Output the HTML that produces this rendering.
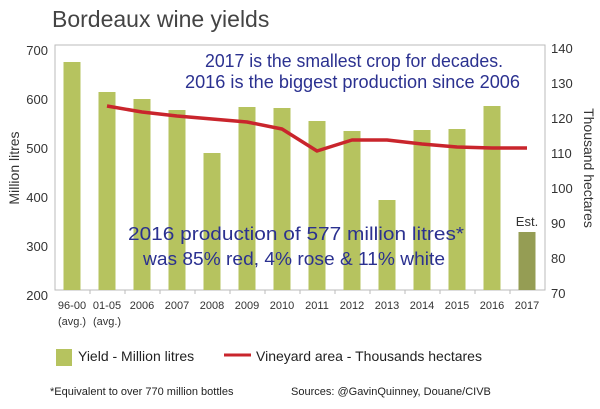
<!DOCTYPE html>
<html><head><meta charset="utf-8"><style>
html,body{margin:0;padding:0;background:#fff;}
svg{display:block;font-family:"Liberation Sans",sans-serif;}
</style></head><body>
<svg width="600" height="409" viewBox="0 0 600 409" xmlns="http://www.w3.org/2000/svg">
<text x="52" y="27" font-size="23" fill="#444">Bordeaux wine yields</text>
<rect x="55" y="45" width="490" height="245" fill="none" stroke="#bbb" stroke-width="1"/>
<g fill="#b6c35f">
<rect x="63.5" y="62" width="17" height="228"/>
<rect x="98.5" y="92" width="17" height="198"/>
<rect x="133.5" y="99" width="17" height="191"/>
<rect x="168.5" y="110" width="17" height="180"/>
<rect x="203.5" y="153" width="17" height="137"/>
<rect x="238.5" y="107" width="17" height="183"/>
<rect x="273.5" y="108" width="17" height="182"/>
<rect x="308.5" y="121" width="17" height="169"/>
<rect x="343.5" y="131" width="17" height="159"/>
<rect x="378.5" y="200" width="17" height="90"/>
<rect x="413.5" y="130" width="17" height="160"/>
<rect x="448.5" y="129" width="17" height="161"/>
<rect x="483.5" y="106" width="17" height="184"/>
<rect x="518.5" y="232" width="17" height="58" fill="#959d54"/>
</g>
<g stroke="#bbb" stroke-width="1">
<line x1="90" y1="290" x2="90" y2="294"/><line x1="125" y1="290" x2="125" y2="294"/><line x1="160" y1="290" x2="160" y2="294"/><line x1="195" y1="290" x2="195" y2="294"/><line x1="230" y1="290" x2="230" y2="294"/><line x1="265" y1="290" x2="265" y2="294"/><line x1="300" y1="290" x2="300" y2="294"/><line x1="335" y1="290" x2="335" y2="294"/><line x1="370" y1="290" x2="370" y2="294"/><line x1="405" y1="290" x2="405" y2="294"/><line x1="440" y1="290" x2="440" y2="294"/><line x1="475" y1="290" x2="475" y2="294"/><line x1="510" y1="290" x2="510" y2="294"/>
</g>
<polyline points="107,106 142,112 177,116 212,119 247,122 282,129 317,151 352,140 387,140 422,144 457,147 492,148 527,148" fill="none" stroke="#c9252c" stroke-width="3.5" stroke-linejoin="round"/>
<g font-size="13" fill="#333" text-anchor="end">
<text x="48" y="55">700</text><text x="48" y="104">600</text><text x="48" y="153">500</text><text x="48" y="202">400</text><text x="48" y="251">300</text><text x="48" y="300">200</text>
</g>
<g font-size="13" fill="#333">
<text x="551" y="53">140</text><text x="551" y="88">130</text><text x="551" y="123">120</text><text x="551" y="158">110</text><text x="551" y="193">100</text><text x="551" y="228">90</text><text x="551" y="263">80</text><text x="551" y="298">70</text>
</g>
<text transform="translate(19,168) rotate(-90)" font-size="14" fill="#333" text-anchor="middle">Million litres</text>
<text transform="translate(584,168) rotate(90)" font-size="14" fill="#333" text-anchor="middle">Thousand hectares</text>
<g font-size="11" fill="#333" text-anchor="middle">
<text x="72" y="309">96-00</text><text x="107" y="309">01-05</text><text x="142" y="309">2006</text><text x="177" y="309">2007</text><text x="212" y="309">2008</text><text x="247" y="309">2009</text><text x="282" y="309">2010</text><text x="317" y="309">2011</text><text x="352" y="309">2012</text><text x="387" y="309">2013</text><text x="422" y="309">2014</text><text x="457" y="309">2015</text><text x="492" y="309">2016</text><text x="527" y="309">2017</text>
<text x="72" y="325">(avg.)</text><text x="107" y="325">(avg.)</text>
</g>
<text x="527" y="226" font-size="13" fill="#333" text-anchor="middle">Est.</text>
<g font-size="18" fill="#2b3190">
<text x="205" y="67" textLength="298" lengthAdjust="spacingAndGlyphs">2017 is the smallest crop for decades.</text>
<text x="185" y="88" textLength="335" lengthAdjust="spacingAndGlyphs">2016 is the biggest production since 2006</text>
<text x="128" y="240" textLength="336" lengthAdjust="spacingAndGlyphs">2016 production of 577 million litres*</text>
<text x="143" y="265" textLength="302" lengthAdjust="spacingAndGlyphs">was 85% red, 4% rose &amp; 11% white</text>
</g>
<rect x="56" y="349" width="16" height="17" fill="#b6c35f"/>
<text x="78" y="361" font-size="14" fill="#222">Yield - Million litres</text>
<line x1="224" y1="355" x2="251" y2="355" stroke="#c9252c" stroke-width="3"/>
<text x="256" y="361" font-size="14" fill="#222">Vineyard area - Thousands hectares</text>
<text x="50" y="395" font-size="11" fill="#222">*Equivalent to over 770 million bottles</text>
<text x="291" y="395" font-size="11" fill="#222">Sources: @GavinQuinney, Douane/CIVB</text>
</svg>
</body></html>
